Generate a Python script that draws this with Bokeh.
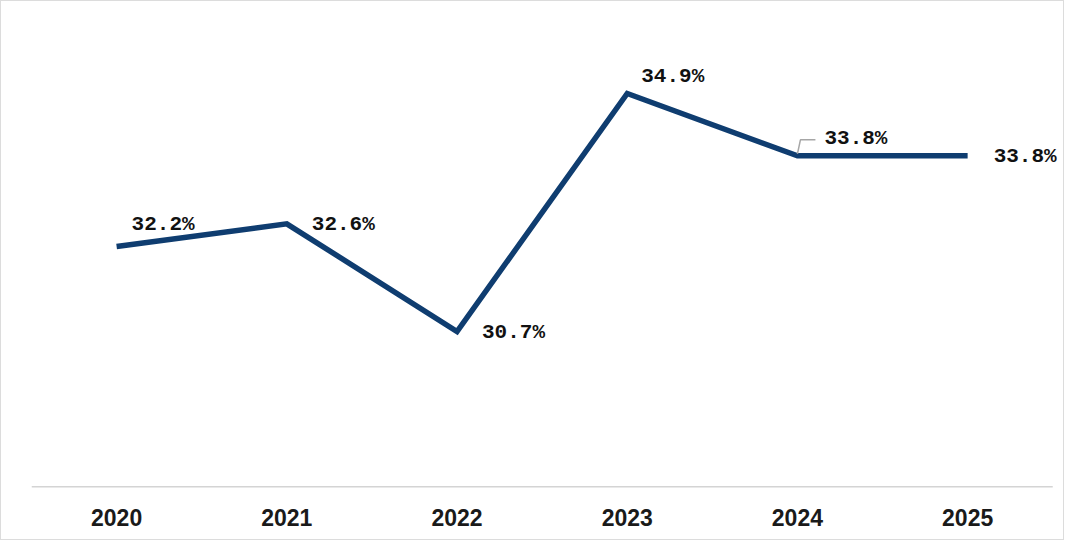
from bokeh.plotting import figure
from bokeh.models import Range1d, FixedTicker, ColumnDataSource, LabelSet
from bokeh.core.properties import value
from bokeh.embed import file_html
from bokeh.resources import INLINE

years = [2020, 2021, 2022, 2023, 2024, 2025]
year_labels = ["2020", "2021", "2022", "2023", "2024", "2025"]
share = [32.2, 32.6, 30.7, 34.9, 33.8, 33.8]
label_text = ["32.2%", "32.6%", "30.7%", "34.9%", "33.8%", "33.8%"]
label_dx = [15, 25, 25, 14, 27, 26]
label_dy = [22, -1, -1, 17, 17, -1]

W, H = 1064, 540
ML, MR, MT, MB = 30, 0, 0, 54
x0, x1 = 2019.5, 2025.575
y0, y1 = 27.947, 36.523

p = figure(width=W, height=H, output_backend="svg", toolbar_location=None,
           x_range=Range1d(x0, x1), y_range=Range1d(y0, y1),
           min_border_left=ML, min_border_right=MR, min_border_top=MT, min_border_bottom=MB)
p.outline_line_color = None
p.xgrid.visible = False
p.ygrid.visible = False
p.yaxis.visible = False
p.styles = {"border": "1px solid #dcdcdc"}

ax = p.xaxis[0]
ax.ticker = FixedTicker(ticks=years)
ax.major_label_overrides = {y: l for y, l in zip(years, year_labels)}
ax.axis_line_color = None
ax.major_tick_line_color = None
ax.minor_tick_line_color = None
ax.major_label_text_font = "Liberation Sans"
ax.major_label_text_font_style = "bold"
ax.major_label_text_font_size = "23px"
ax.major_label_text_color = "#1a1a1a"
ax.major_label_standoff = 15

# category baseline: from the left edge to the end of the last category slot
p.line([x0, years[-1] + 0.5], [y0, y0], line_color="#d4d4d4", line_width=3)

p.line(years, share, line_color="#0f3d70", line_width=5.5, line_join="miter")

# leader line for the 2024 label
px_per_x = (W - ML - MR) / (x1 - x0)
px_per_y = (H - MT - MB) / (y1 - y0)
i = 4
lx = [years[i], years[i] + 3 / px_per_x, years[i] + 18 / px_per_x]
ly = [share[i] + 2 / px_per_y, share[i] + 16 / px_per_y, share[i] + 16 / px_per_y]
p.line(lx, ly, line_color="#a6a6a6", line_width=1.5)

src = ColumnDataSource(dict(x=years, y=share, t=label_text, dx=label_dx, dy=label_dy))
labels = LabelSet(x="x", y="y", text="t", x_offset="dx", y_offset="dy", source=src,
                  text_font=value("Liberation Mono"), text_font_style="bold",
                  text_font_size="21px", text_color="#111111",
                  text_align="left", text_baseline="middle")
p.add_layout(labels)

open("out.html", "w").write(file_html(p, INLINE))
